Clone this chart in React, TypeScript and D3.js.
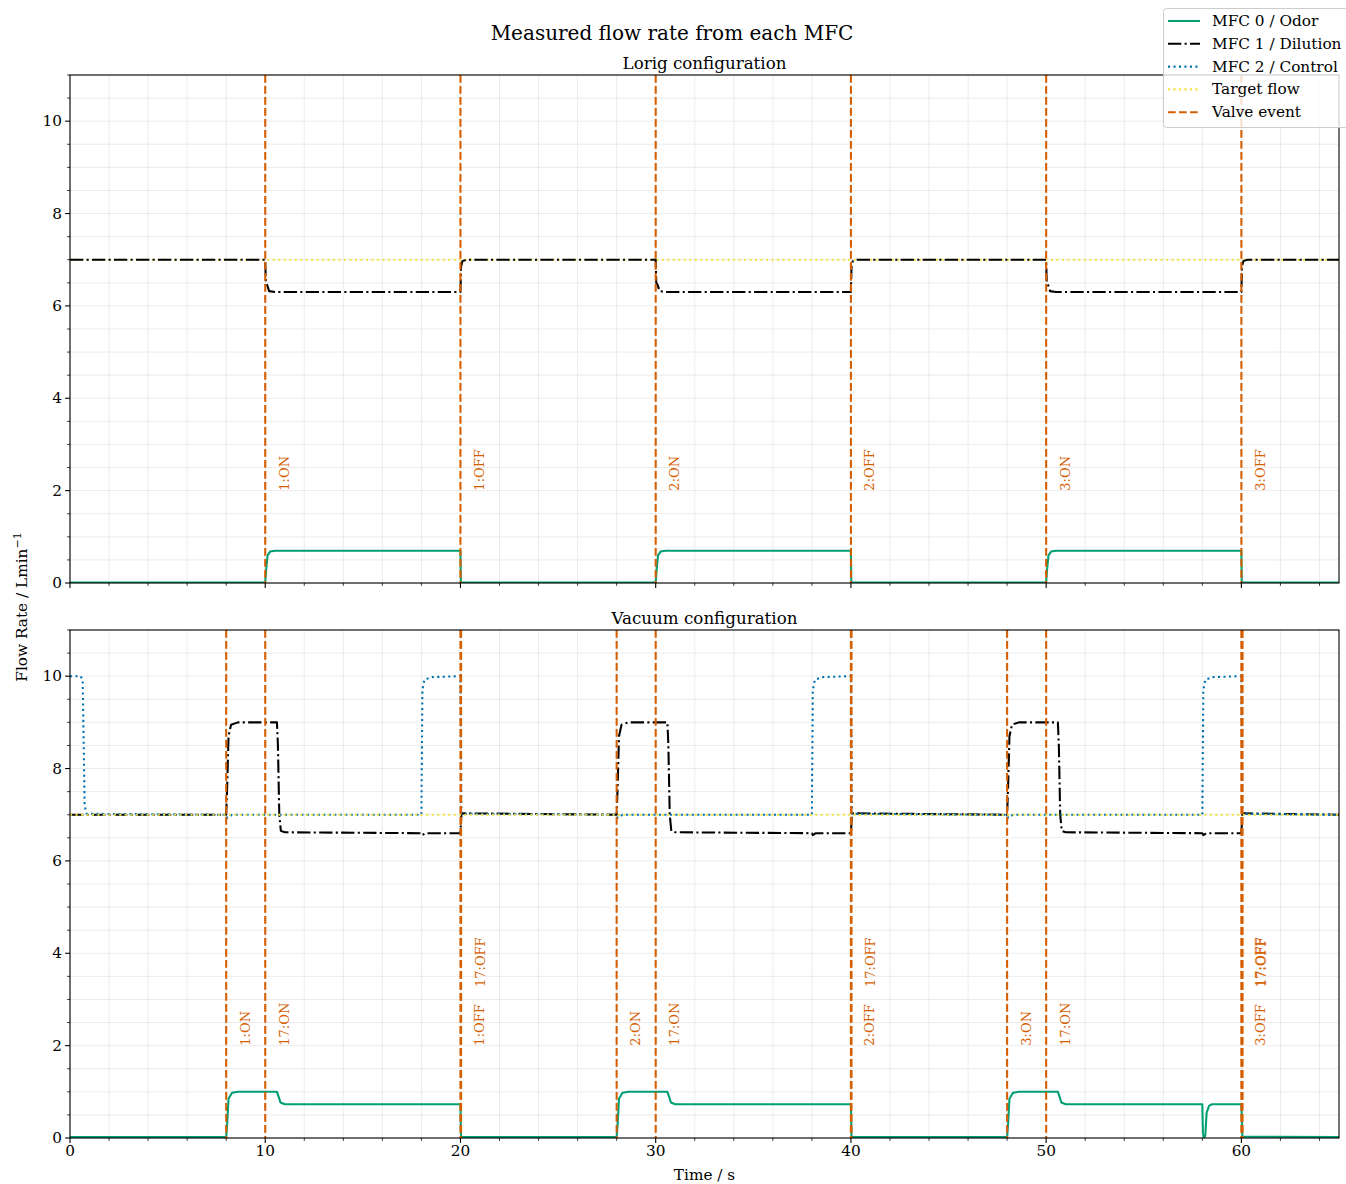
import React from 'react';
import * as d3 from 'd3';

type P = [number, number];

const FONT = "'DejaVu Serif', serif";
const C_ODOR = '#009e73';
const C_DIL = '#000000';
const C_CTRL = '#0072b2';
const C_TGT = '#f0e442';
const C_VALVE = '#d55e00';

const xMajorTicks = [0, 10, 20, 30, 40, 50, 60];
const yMajorTicks = [0, 2, 4, 6, 8, 10];
const xDomain: P = [0, 65];
const yDomain: P = [0, 11];

// ---------- Lorig configuration ----------
const lorigOdor: P[] = [
  [0, 0.01], [10, 0.01], [10.05, 0.3], [10.12, 0.6], [10.25, 0.68], [10.5, 0.7], [20, 0.7], [20.02, 0.01],
  [30, 0.01], [30.05, 0.3], [30.12, 0.6], [30.25, 0.68], [30.5, 0.7], [40, 0.7], [40.02, 0.01],
  [50, 0.01], [50.05, 0.3], [50.12, 0.6], [50.25, 0.68], [50.5, 0.7], [60, 0.7], [60.02, 0.01], [65, 0.01],
];
const lorigDilution: P[] = [
  [0, 7], [10, 7], [10.03, 6.5], [10.1, 6.45], [10.2, 6.32], [10.5, 6.3], [20, 6.3], [20.03, 6.85], [20.1, 6.97], [20.3, 7],
  [30, 7], [30.03, 6.5], [30.1, 6.45], [30.2, 6.32], [30.5, 6.3], [40, 6.3], [40.03, 6.85], [40.1, 6.97], [40.3, 7],
  [50, 7], [50.03, 6.5], [50.1, 6.45], [50.2, 6.32], [50.5, 6.3], [60, 6.3], [60.03, 6.85], [60.1, 6.97], [60.3, 7], [65, 7],
];
const lorigTarget: P[] = [[0, 7], [65, 7]];
const lorigValveTimes = [10, 20, 30, 40, 50, 60];
const lorigValveLabels = ['1:ON', '1:OFF', '2:ON', '2:OFF', '3:ON', '3:OFF'];
const lorigLabelLevels = [2, 2, 2, 2, 2, 2];

// ---------- Vacuum configuration ----------
const vacOdor: P[] = [
  [0, 0.02], [8, 0.02], [8.05, 0.3], [8.12, 0.85], [8.3, 0.98], [8.6, 1.0], [10.6, 1.0], [10.68, 0.9], [10.78, 0.77], [11, 0.73], [20, 0.73], [20.03, 0.02],
  [28, 0.02], [28.05, 0.3], [28.12, 0.85], [28.3, 0.98], [28.6, 1.0], [30.6, 1.0], [30.68, 0.9], [30.78, 0.77], [31, 0.73], [40, 0.73], [40.03, 0.02],
  [48, 0.02], [48.05, 0.3], [48.12, 0.85], [48.3, 0.98], [48.6, 1.0], [50.6, 1.0], [50.68, 0.9], [50.78, 0.77], [51, 0.73],
  [58, 0.73], [58.03, 0.1], [58.08, 0], [58.15, 0.05], [58.22, 0.55], [58.35, 0.7], [58.5, 0.73], [60, 0.73], [60.05, 0.03], [65, 0.02],
];
const vacDilution: P[] = [
  [0, 7], [8, 7], [8.05, 7.6], [8.12, 8.7], [8.25, 8.95], [8.6, 9], [10.6, 9], [10.65, 8.5], [10.72, 7], [10.8, 6.65], [11, 6.62],
  [18, 6.6], [18.05, 6.56], [18.2, 6.6], [20, 6.6], [20.05, 7.03],
  [28, 7], [28.05, 7.6], [28.12, 8.7], [28.25, 8.95], [28.6, 9], [30.6, 9], [30.65, 8.5], [30.72, 7], [30.8, 6.65], [31, 6.62],
  [38, 6.6], [38.05, 6.56], [38.2, 6.6], [40, 6.6], [40.05, 7.03],
  [48, 7], [48.05, 7.6], [48.12, 8.7], [48.25, 8.95], [48.6, 9], [50.6, 9], [50.65, 8.5], [50.72, 7], [50.8, 6.65], [51, 6.62],
  [58, 6.6], [58.05, 6.56], [58.2, 6.6], [60, 6.6], [60.05, 7.03], [65, 7],
];
const vacControl: P[] = [
  [0, 10], [0.55, 10], [0.65, 9.9], [0.75, 7.2], [0.85, 7.02], [8, 7], [8.05, 6.93], [8.3, 7],
  [18, 7], [18.05, 9.7], [18.15, 9.92], [18.5, 9.98], [20, 10], [20.05, 7.02],
  [28, 7], [28.05, 6.93], [28.3, 7],
  [38, 7], [38.05, 9.7], [38.15, 9.92], [38.5, 9.98], [40, 10], [40.05, 7.02],
  [48, 7], [48.05, 6.93], [48.3, 7],
  [58, 7], [58.05, 9.7], [58.15, 9.92], [58.5, 9.98], [60, 10], [60.05, 7.02], [65, 7],
];
const vacTarget: P[] = [[0, 7], [65, 7]];
const vacValveTimes = [8, 10, 20, 20.03, 28, 30, 40, 40.03, 48, 50, 60, 60.03, 60.06];
const vacValveLabels = ['1:ON', '17:ON', '1:OFF', '17:OFF', '2:ON', '17:ON', '2:OFF', '17:OFF', '3:ON', '17:ON', '3:OFF', '17:OFF', '17:OFF'];
const vacLabelLevels = [2, 2, 2, 3.27, 2, 2, 2, 3.27, 2, 2, 2, 3.27, 3.27];

const legendLabels = ['MFC 0 / Odor', 'MFC 1 / Dilution', 'MFC 2 / Control', 'Target flow', 'Valve event'];

const LW = 2.08;
const DASH_VALVE = '7.7 3.3';
const DASH_DIL = '13.3 3.3 2.1 3.3';
const DASH_DOT = '2.08 3.4';

const L = 70, R = 1339;
const TICK_FS = 15.3;

interface PanelProps {
  top: number;
  bottom: number;
  title: string;
  series: { data: P[]; color: string; dash?: string }[];
  valveTimes: number[];
  valveLabels: string[];
  labelLevels: number[];
  showXLabels: boolean;
}

function Panel({ top, bottom, title, series, valveTimes, valveLabels, labelLevels, showXLabels }: PanelProps) {
  const x = d3.scaleLinear().domain(xDomain).range([L, R]);
  const y = d3.scaleLinear().domain(yDomain).range([bottom, top]);
  const line = d3.line<P>().x((d) => x(d[0])).y((d) => y(d[1]));
  const xMinor = d3.range(0, 65.001, 2);
  const yMinor = d3.range(0, 11.001, 0.5);
  const clipId = `clip-${top}`;
  return (
    <g>
      <defs>
        <clipPath id={clipId}>
          <rect x={L} y={top} width={R - L} height={bottom - top} />
        </clipPath>
      </defs>
      <g stroke="#b0b0b0" strokeOpacity={0.3} strokeWidth={0.8}>
        {xMinor.map((t) => (
          <line key={'gx' + t} x1={x(t)} x2={x(t)} y1={top} y2={bottom} />
        ))}
        {yMinor.map((v) => (
          <line key={'gy' + v} x1={L} x2={R} y1={y(v)} y2={y(v)} />
        ))}
      </g>
      <g clipPath={`url(#${clipId})`}>
        {series.map((s, i) => (
          <path key={i} d={line(s.data) || ''} fill="none" stroke={s.color} strokeWidth={LW} strokeDasharray={s.dash} strokeLinejoin="round" />
        ))}
        {valveTimes.map((t, i) => (
          <line key={'v' + i} x1={x(t)} x2={x(t)} y1={top} y2={bottom} stroke={C_VALVE} strokeWidth={LW} strokeDasharray={DASH_VALVE} />
        ))}
      </g>
      {valveTimes.map((t, i) => {
        const tx = x(t) + 19;
        const ty = y(labelLevels[i]);
        return (
          <text key={'vl' + i} x={tx} y={ty} transform={`rotate(-90 ${tx} ${ty})`} fill={C_VALVE} fontFamily={FONT} fontSize={13} dominantBaseline="central" textAnchor="start">
            {valveLabels[i]}
          </text>
        );
      })}
      <rect x={L} y={top} width={R - L} height={bottom - top} fill="none" stroke="#000" strokeWidth={1.1} />
      {yMinor.map((v) => (
        <line key={'ym' + v} x1={L} x2={L - (yMajorTicks.includes(v) ? 4.9 : 2.8)} y1={y(v)} y2={y(v)} stroke="#000" strokeWidth={yMajorTicks.includes(v) ? 1.1 : 0.8} />
      ))}
      {yMajorTicks.map((v) => (
        <text key={'yl' + v} x={L - 8} y={y(v)} textAnchor="end" dominantBaseline="central" fontFamily={FONT} fontSize={TICK_FS}>
          {v}
        </text>
      ))}
      {xMinor.map((t) => (
        <line key={'xm' + t} x1={x(t)} x2={x(t)} y1={bottom} y2={bottom + (xMajorTicks.includes(t) ? 4.9 : 2.8)} stroke="#000" strokeWidth={xMajorTicks.includes(t) ? 1.1 : 0.8} />
      ))}
      {showXLabels &&
        xMajorTicks.map((t) => (
          <text key={'xl' + t} x={x(t)} y={bottom + 7} textAnchor="middle" dominantBaseline="hanging" fontFamily={FONT} fontSize={TICK_FS}>
            {t}
          </text>
        ))}
      <text x={(L + R) / 2} y={top - 6} textAnchor="middle" fontFamily={FONT} fontSize={16.7}>
        {title}
      </text>
    </g>
  );
}

export default function App() {
  const legendItems = [
    { color: C_ODOR, dash: undefined },
    { color: C_DIL, dash: DASH_DIL },
    { color: C_CTRL, dash: DASH_DOT },
    { color: C_TGT, dash: DASH_DOT },
    { color: C_VALVE, dash: DASH_VALVE },
  ];
  return (
    <svg width={1346} height={1184} style={{ position: 'absolute', left: 0, top: 0, background: '#fff' }}>
      <rect x={0} y={0} width={1346} height={1184} fill="#fff" />
      <text x={672} y={40} textAnchor="middle" fontFamily={FONT} fontSize={20}>
        Measured flow rate from each MFC
      </text>
      <Panel
        top={75}
        bottom={583}
        title="Lorig configuration"
        series={[
          { data: lorigTarget, color: C_TGT, dash: DASH_DOT },
          { data: lorigDilution, color: C_DIL, dash: DASH_DIL },
          { data: lorigOdor, color: C_ODOR },
        ]}
        valveTimes={lorigValveTimes}
        valveLabels={lorigValveLabels}
        labelLevels={lorigLabelLevels}
        showXLabels={false}
      />
      <Panel
        top={630}
        bottom={1138}
        title="Vacuum configuration"
        series={[
          { data: vacOdor, color: C_ODOR },
          { data: vacDilution, color: C_DIL, dash: DASH_DIL },
          { data: vacControl, color: C_CTRL, dash: DASH_DOT },
          { data: vacTarget, color: C_TGT, dash: DASH_DOT },
        ]}
        valveTimes={vacValveTimes}
        valveLabels={vacValveLabels}
        labelLevels={vacLabelLevels}
        showXLabels={true}
      />
      <text x={(L + R) / 2} y={1180} textAnchor="middle" fontFamily={FONT} fontSize={TICK_FS}>
        Time / s
      </text>
      <text transform="translate(27 607) rotate(-90)" textAnchor="middle" fontFamily={FONT} fontSize={TICK_FS}>
        Flow Rate / Lmin<tspan dy={-6} fontSize={11}>−1</tspan>
      </text>
      <g>
        <rect x={1163.5} y={8.5} width={185} height={119} rx={3} fill="#fff" fillOpacity={0.8} stroke="#ccc" strokeWidth={1} />
        {legendLabels.map((lab, i) => {
          const yy = 21 + i * 22.8;
          return (
            <g key={lab}>
              <line x1={1168} x2={1200} y1={yy} y2={yy} stroke={legendItems[i].color} strokeWidth={LW} strokeDasharray={legendItems[i].dash} />
              <text x={1212} y={yy} dominantBaseline="central" fontFamily={FONT} fontSize={TICK_FS}>
                {lab}
              </text>
            </g>
          );
        })}
      </g>
    </svg>
  );
}
